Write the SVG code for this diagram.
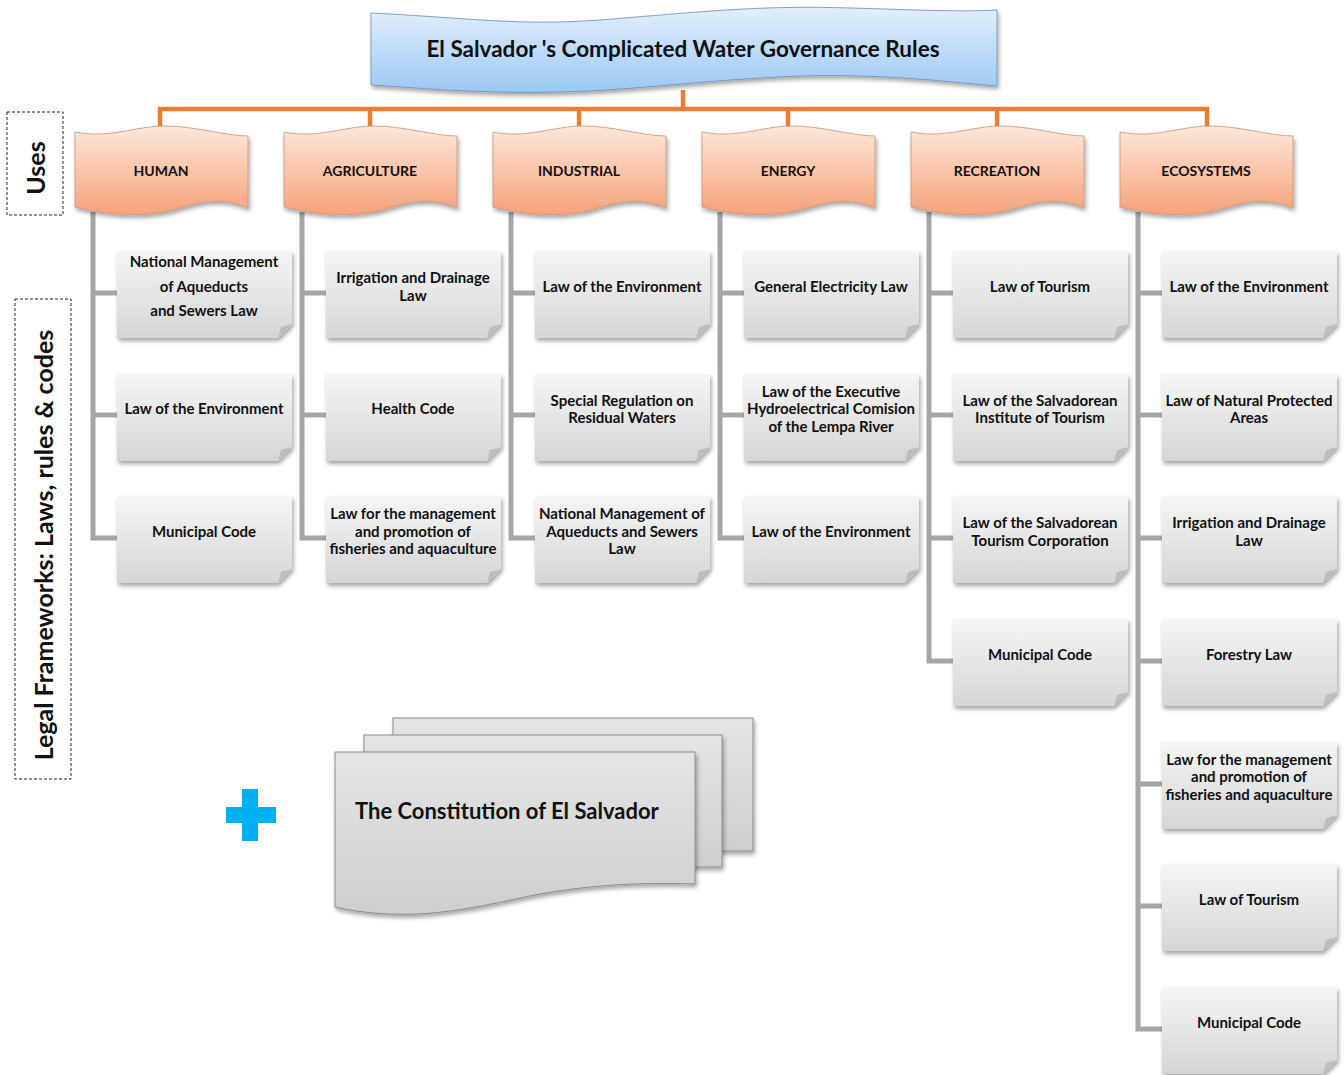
<svg xmlns="http://www.w3.org/2000/svg" width="1344" height="1075" viewBox="0 0 1344 1075">
<defs>
<linearGradient id="gTitle" x1="0" y1="0" x2="0" y2="1"><stop offset="0" stop-color="#e2effc"/><stop offset="1" stop-color="#9cc8f4"/></linearGradient>
<linearGradient id="gHead" x1="0" y1="0" x2="0" y2="1"><stop offset="0" stop-color="#fde8db"/><stop offset="1" stop-color="#f6a27a"/></linearGradient>
<linearGradient id="gBox" x1="0" y1="0" x2="0" y2="1"><stop offset="0" stop-color="#f6f6f6"/><stop offset="1" stop-color="#d5d5d5"/></linearGradient>
<linearGradient id="gDoc" x1="0" y1="0" x2="0" y2="1"><stop offset="0" stop-color="#e4e4e4"/><stop offset="1" stop-color="#cfcfcf"/></linearGradient>
<filter id="sh" x="-10%" y="-10%" width="125%" height="130%"><feDropShadow dx="1.5" dy="3" stdDeviation="2" flood-color="#000" flood-opacity="0.35"/></filter>
<path id="wave" d="M0,4 C35,11 60,-2 90,-2 C120,-2 150,8 173,8 L173,80 C150,70 130,72 105,80 C80,88 45,90 0,79 Z"/>
<g id="box">
<path d="M0,0 H175 V73 L161,87 H0 Z" fill="url(#gBox)" filter="url(#sh)"/>
<path d="M161,87 L164,76 L175,73 Z" fill="#bdbdbd"/>
</g>
</defs>
<style>
text{font-family:Lato,"Open Sans","Liberation Sans",sans-serif;font-weight:700;fill:#111;text-anchor:middle;dominant-baseline:central}
.lt{font-size:15px}
.hd{font-size:14px}
.trunk{fill:none;stroke:#a6a6a6;stroke-width:5}
.org{fill:none;stroke:#ed7d31;stroke-width:4.5}
.dash{fill:none;stroke:#222;stroke-width:1;stroke-dasharray:3 2}
.head{fill:url(#gHead);stroke:#c89479;stroke-width:0.8;filter:url(#sh)}
</style>
<rect width="1344" height="1075" fill="#fff"/>

<g id="connectors">
<path class="org" d="M683,90 V109 M160,127 V109 H1207 V127 M370,109 V127 M579,109 V127 M788,109 V127 M997,109 V127"/>
<path class="trunk" d="M93,212 V538 H117 M93,293 H117 M93,415 H117"/>
<path class="trunk" d="M302,212 V538 H326 M302,293 H326 M302,415 H326"/>
<path class="trunk" d="M511,212 V538 H535 M511,293 H535 M511,415 H535"/>
<path class="trunk" d="M720,212 V538 H744 M720,293 H744 M720,415 H744"/>
<path class="trunk" d="M929,212 V661 H953 M929,293 H953 M929,415 H953 M929,538 H953"/>
<path class="trunk" d="M1138,212 V1029 H1162 M1138,293 H1162 M1138,415 H1162 M1138,538 H1162 M1138,661 H1162 M1138,784 H1162 M1138,906 H1162"/>
</g>

<g id="title">
<path d="M371,13 C470,18 520,26 600,20 C700,12 760,5 850,8 C920,10 960,12 997,10 L997,86 C930,80 880,74 800,76 C700,80 640,90 560,92 C480,94 420,88 371,85 Z" fill="url(#gTitle)" stroke="#6f8fb0" stroke-width="0.8" filter="url(#sh)"/>
<text x="683" y="48" style="font-size:22.5px">El Salvador 's Complicated Water Governance Rules</text>
</g>

<g id="label-uses">
<rect class="dash" x="7" y="112" width="56" height="103"/>
<text transform="translate(35,168) rotate(-90)" style="font-size:25px">Uses</text>
</g>
<g id="label-legal">
<rect class="dash" x="15" y="299" width="56" height="480"/>
<text transform="translate(43,545) rotate(-90)" style="font-size:25px">Legal Frameworks: Laws, rules &amp; codes</text>
</g>

<g id="h-human"><use href="#wave" class="head" transform="translate(75,128)"/><text class="hd" x="161" y="170">HUMAN</text></g>
<g id="h-agri"><use href="#wave" class="head" transform="translate(284,128)"/><text class="hd" x="370" y="170">AGRICULTURE</text></g>
<g id="h-ind"><use href="#wave" class="head" transform="translate(493,128)"/><text class="hd" x="579" y="170">INDUSTRIAL</text></g>
<g id="h-energy"><use href="#wave" class="head" transform="translate(702,128)"/><text class="hd" x="788" y="170">ENERGY</text></g>
<g id="h-rec"><use href="#wave" class="head" transform="translate(911,128)"/><text class="hd" x="997" y="170">RECREATION</text></g>
<g id="h-eco"><use href="#wave" class="head" transform="translate(1120,128)"/><text class="hd" x="1206" y="170">ECOSYSTEMS</text></g>

<!-- HUMAN -->
<g id="hu1"><use href="#box" transform="translate(117,251)"/><text class="lt" x="204" y="261">National Management</text><text class="lt" x="204" y="286">of Aqueducts</text><text class="lt" x="204" y="310">and Sewers Law</text></g>
<g id="hu2"><use href="#box" transform="translate(117,374)"/><text class="lt" x="204" y="408">Law of the Environment</text></g>
<g id="hu3"><use href="#box" transform="translate(117,496)"/><text class="lt" x="204" y="531">Municipal Code</text></g>

<!-- AGRICULTURE -->
<g id="ag1"><use href="#box" transform="translate(326,251)"/><text class="lt" x="413" y="277">Irrigation and Drainage</text><text class="lt" x="413" y="295">Law</text></g>
<g id="ag2"><use href="#box" transform="translate(326,374)"/><text class="lt" x="413" y="408">Health Code</text></g>
<g id="ag3"><use href="#box" transform="translate(326,496)"/><text class="lt" x="413" y="513">Law for the management</text><text class="lt" x="413" y="531">and promotion of</text><text class="lt" x="413" y="548">fisheries and aquaculture</text></g>

<!-- INDUSTRIAL -->
<g id="in1"><use href="#box" transform="translate(535,251)"/><text class="lt" x="622" y="286">Law of the Environment</text></g>
<g id="in2"><use href="#box" transform="translate(535,374)"/><text class="lt" x="622" y="400">Special Regulation on</text><text class="lt" x="622" y="417">Residual Waters</text></g>
<g id="in3"><use href="#box" transform="translate(535,496)"/><text class="lt" x="622" y="513">National Management of</text><text class="lt" x="622" y="531">Aqueducts and Sewers</text><text class="lt" x="622" y="548">Law</text></g>

<!-- ENERGY -->
<g id="en1"><use href="#box" transform="translate(744,251)"/><text class="lt" x="831" y="286">General Electricity Law</text></g>
<g id="en2"><use href="#box" transform="translate(744,374)"/><text class="lt" x="831" y="391">Law of the Executive</text><text class="lt" x="831" y="408">Hydroelectrical Comision</text><text class="lt" x="831" y="426">of the Lempa River</text></g>
<g id="en3"><use href="#box" transform="translate(744,496)"/><text class="lt" x="831" y="531">Law of the Environment</text></g>

<!-- RECREATION -->
<g id="re1"><use href="#box" transform="translate(953,251)"/><text class="lt" x="1040" y="286">Law of Tourism</text></g>
<g id="re2"><use href="#box" transform="translate(953,374)"/><text class="lt" x="1040" y="400">Law of the Salvadorean</text><text class="lt" x="1040" y="417">Institute of Tourism</text></g>
<g id="re3"><use href="#box" transform="translate(953,496)"/><text class="lt" x="1040" y="522">Law of the Salvadorean</text><text class="lt" x="1040" y="540">Tourism Corporation</text></g>
<g id="re4"><use href="#box" transform="translate(953,619)"/><text class="lt" x="1040" y="654">Municipal Code</text></g>

<!-- ECOSYSTEMS -->
<g id="ec1"><use href="#box" transform="translate(1162,251)"/><text class="lt" x="1249" y="286">Law of the Environment</text></g>
<g id="ec2"><use href="#box" transform="translate(1162,374)"/><text class="lt" x="1249" y="400">Law of Natural Protected</text><text class="lt" x="1249" y="417">Areas</text></g>
<g id="ec3"><use href="#box" transform="translate(1162,496)"/><text class="lt" x="1249" y="522">Irrigation and Drainage</text><text class="lt" x="1249" y="540">Law</text></g>
<g id="ec4"><use href="#box" transform="translate(1162,619)"/><text class="lt" x="1249" y="654">Forestry Law</text></g>
<g id="ec5"><use href="#box" transform="translate(1162,742)"/><text class="lt" x="1249" y="759">Law for the management</text><text class="lt" x="1249" y="776">and promotion of</text><text class="lt" x="1249" y="794">fisheries and aquaculture</text></g>
<g id="ec6"><use href="#box" transform="translate(1162,864)"/><text class="lt" x="1249" y="899">Law of Tourism</text></g>
<g id="ec7"><use href="#box" transform="translate(1162,987)"/><text class="lt" x="1249" y="1022">Municipal Code</text></g>

<!-- Constitution -->
<g id="plus"><path d="M242,789 H258 V807 H276 V823 H258 V841 H242 V823 H226 V807 H242 Z" fill="#00b0f0"/></g>
<g id="constitution">
<rect x="393" y="718" width="360" height="133" fill="url(#gDoc)" stroke="#8c8c8c" stroke-width="1" filter="url(#sh)"/>
<rect x="364" y="735" width="358" height="132" fill="url(#gDoc)" stroke="#8c8c8c" stroke-width="1" filter="url(#sh)"/>
<path d="M335,752 H695 V884 C640,882 580,885 520,898 C470,909 430,916 390,914 C365,913 348,910 335,907 Z" fill="url(#gDoc)" stroke="#8c8c8c" stroke-width="1" filter="url(#sh)"/>
<text x="355" y="810" style="text-anchor:start;font-size:22px">The Constitution of El Salvador</text>
</g>
</svg>
